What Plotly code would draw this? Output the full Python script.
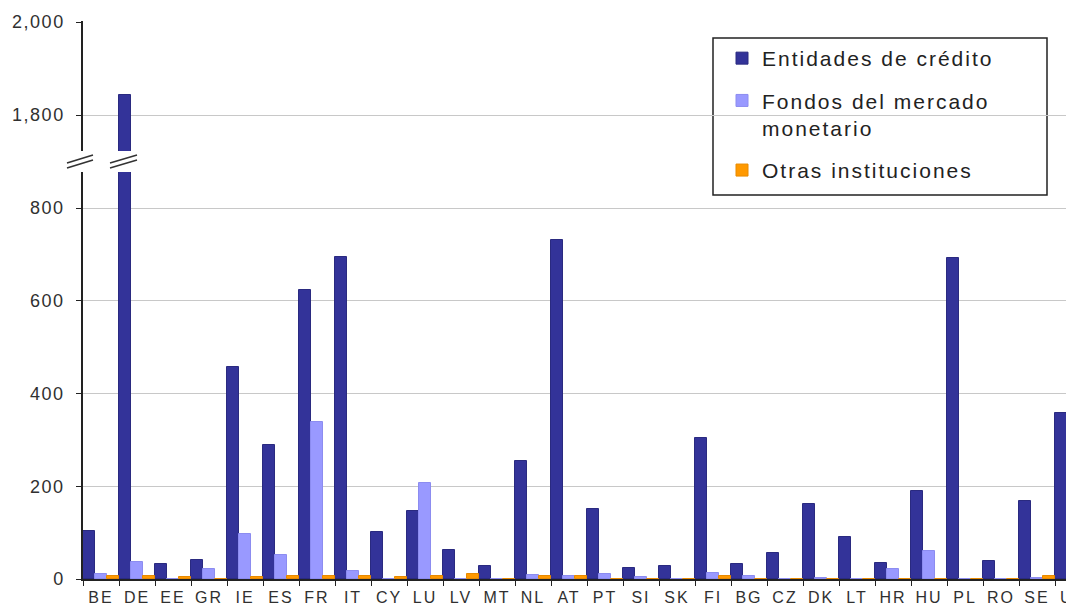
import plotly.graph_objects as go

countries = ["BE", "DE", "EE", "GR", "IE", "ES", "FR", "IT", "CY", "LU", "LV", "MT", "NL", "AT",
             "PT", "SI", "SK", "FI", "BG", "CZ", "DK", "LT", "HR", "HU", "PL", "RO", "SE", "UK"]
entidades = [104, 1843, 32, 40, 457, 290, 623, 694, 101, 147, 63, 27, 254, 731,
             152, 23, 29, 303, 32, 56, 162, 91, 35, 189, 692, 39, 168, 359]
fondos = [10, 37, 0, 21, 96, 52, 338, 17, 0, 208, 1, 1, 8, 7,
          11, 4, 1, 13, 7, 1, 2, 0, 21, 61, 0, 1, 3, 32]
otras = [6, 6, 5, 0, 5, 6, 6, 6, 5, 6, 10, 0, 6, 6,
         0, 0, 0, 6, 0, 0, 0, 0, 0, 0, 0, 0, 6, 0]

series_names = [["Entidades de crédito"], ["Fondos del mercado", "monetario"], ["Otras instituciones"]]
series_values = [entidades, fondos, otras]
series_colors = ["#333399", "#9999FF", "#FF9900"]
line_colors = ["#2a2a80", "#8c8cf0", "#e88a00"]

low_ticks = [0, 200, 400, 600, 800]
high_ticks = [1800, 2000]

# page body has an 8px margin: work in screen pixels, convert to figure pixels
OFF = 8
W, H = 1074 - OFF, 606 - OFF
S_LEFT, S_TOP, S_ZERO = 83, 21, 579          # screen pixels
ML, MT = S_LEFT - OFF, S_TOP - OFF
MB = H - (S_ZERO - OFF)
PW, PH = W - ML, H - MT - MB


def sp(t, ls):
    return f'<span style="letter-spacing:{ls}px">{t}</span>'


def py(p):
    return (S_ZERO - p) / PH


def px(p):
    return (p - S_LEFT) / PW


low_top_px, high_bot_px = 172, 151
ppu = (S_ZERO - 208) / 800.0
low_max = (S_ZERO - low_top_px) / ppu
ppu2 = (115 - 22) / 200.0
high_max = 2000 + (22 - S_TOP) / ppu2
high_min = 2000 - (high_bot_px - 22) / ppu2

fig = go.Figure()
for i in range(3):
    name = "<br>".join(sp(t, 2) for t in series_names[i])
    for yax, show in (("y", True), ("y2", False)):
        fig.add_trace(go.Bar(
            x=countries, y=series_values[i], name=name, yaxis=yax,
            marker=dict(color=series_colors[i], line=dict(color=line_colors[i], width=1)),
            showlegend=show, legendgroup=f"g{i}", hoverinfo="x+y",
        ))

tick_font = dict(family="Liberation Sans, Arial, sans-serif", size=18, color="#303030")
fig.update_layout(
    width=W, height=H,
    margin=dict(l=ML, r=0, t=MT, b=MB, pad=0, autoexpand=False),
    paper_bgcolor="white", plot_bgcolor="white",
    barmode="group", bargap=0, bargroupgap=0,
    showlegend=True,
    legend=dict(
        x=px(722), y=py(38), xanchor="left", yanchor="top",
        borderwidth=0, bgcolor="rgba(0,0,0,0)",
        font=dict(family="Liberation Sans, Arial, sans-serif", size=21, color="#222222"),
        tracegroupgap=12, valign="top", traceorder="grouped",
    ),
    xaxis=dict(
        type="category", range=[-0.5, PW / 36.0 - 0.5],
        tickvals=countries, ticktext=[sp(c, 2) for c in countries], tickangle=0,
        tickson="boundaries", ticks="outside", ticklen=5, tickcolor="#222",
        ticklabelstandoff=3,
        showline=True, linecolor="#222", linewidth=1.5, showgrid=False,
        tickfont=dict(family="Liberation Sans, Arial, sans-serif", size=16, color="#303030"),
        anchor="y", automargin=False,
    ),
    yaxis=dict(
        domain=[0, py(low_top_px)], range=[0, low_max],
        tickvals=low_ticks, ticktext=[sp(f"{v:,}", 1.5) for v in low_ticks],
        ticks="outside", ticklen=5, tickcolor="#222", ticklabelstandoff=8,
        showline=True, linecolor="#222", linewidth=1.5,
        showgrid=True, gridcolor="#c8c8c8", gridwidth=1.2, zeroline=False,
        tickfont=tick_font, automargin=False,
    ),
    yaxis2=dict(
        domain=[py(high_bot_px), 1], range=[high_min, high_max],
        tickvals=high_ticks, ticktext=[sp(f"{v:,}", 1.5) for v in high_ticks],
        ticks="outside", ticklen=5, tickcolor="#222", ticklabelstandoff=8,
        showline=True, linecolor="#222", linewidth=1.5,
        showgrid=True, gridcolor="#c8c8c8", gridwidth=1.2, zeroline=False,
        tickfont=tick_font, anchor="x", automargin=False,
    ),
)

shapes = [
    # legend frame
    dict(type="rect", xref="paper", yref="paper", layer="between",
         x0=px(713), y0=py(195), x1=px(1047), y1=py(38),
         fillcolor="white", line=dict(color="#222222", width=1.5)),
]
# axis break marks (double slashes) at the y-axis and across the broken bar
for x0, x1 in ((67, 93), (110, 137)):
    for dy in (0, 5):
        shapes.append(dict(
            type="line", xref="paper", yref="paper",
            x0=px(x0), y0=py(163 + dy), x1=px(x1), y1=py(155 + dy),
            line=dict(color="#333333", width=1.5),
        ))
fig.update_layout(shapes=shapes)

fig.write_html("out.html")
